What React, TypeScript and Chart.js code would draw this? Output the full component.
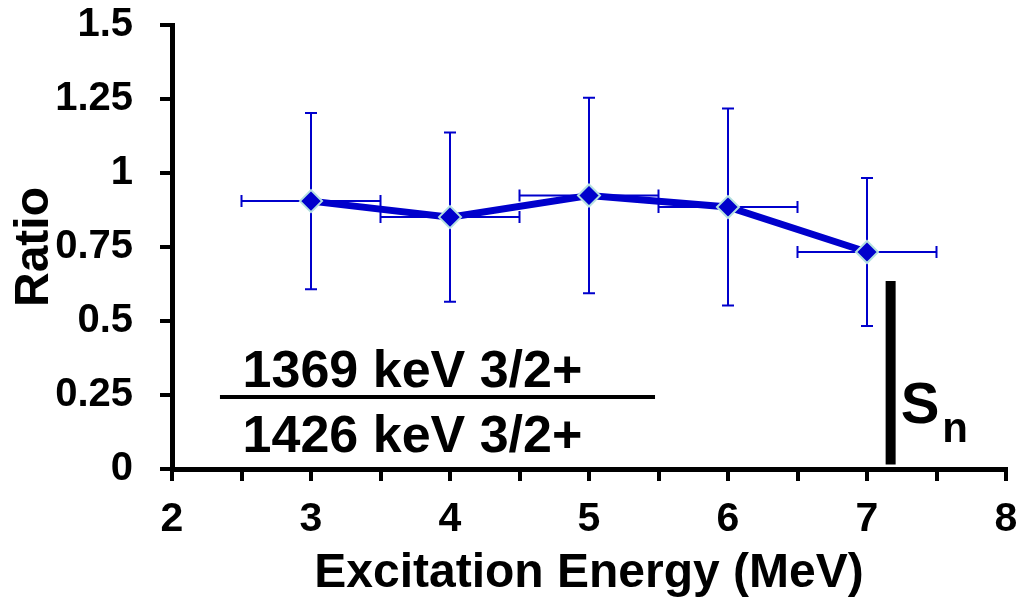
import React, { useEffect, useRef } from "react";
import { Chart, registerables } from "chart.js";

Chart.register(...registerables);

// Data
const energies = [3, 4, 5, 6, 7];
const ratios = [0.905, 0.851, 0.924, 0.885, 0.733];
const ratioErr = [0.298, 0.286, 0.33, 0.333, 0.25];
const energyErr = [0.5, 0.5, 0.5, 0.5, 0.5];
const xTickLabels = ["2", "3", "4", "5", "6", "7", "8"];
const yTickLabels = ["0", "0.25", "0.5", "0.75", "1", "1.25", "1.5"];

// Annotations (data coordinates)
const snX = 7.17;
const snYRange = [0.015, 0.635];
const fracBarX = [2.345, 5.475];
const fracBarY = 0.243;
const fracTextX = 3.73;
const numeratorText = "1369 keV 3/2+";
const denominatorText = "1426 keV 3/2+";

const BLUE = "#0000CC";
const FONT = "'Liberation Sans', Arial, sans-serif";

const errorBarPlugin = {
  id: "errorBars",
  beforeDatasetsDraw(chart: any) {
    const { ctx, scales } = chart;
    const xs = scales.x;
    const ys = scales.y;
    ctx.save();
    ctx.strokeStyle = BLUE;
    ctx.lineWidth = 2;
    const cap = 6;
    energies.forEach((e, i) => {
      const px = xs.getPixelForValue(e);
      const py = ys.getPixelForValue(ratios[i]);
      const yt = ys.getPixelForValue(ratios[i] + ratioErr[i]);
      const yb = ys.getPixelForValue(ratios[i] - ratioErr[i]);
      const xl = xs.getPixelForValue(e - energyErr[i]);
      const xr = xs.getPixelForValue(e + energyErr[i]);
      ctx.beginPath();
      ctx.moveTo(px, yt);
      ctx.lineTo(px, yb);
      ctx.moveTo(px - cap, yt);
      ctx.lineTo(px + cap, yt);
      ctx.moveTo(px - cap, yb);
      ctx.lineTo(px + cap, yb);
      ctx.moveTo(xl, py);
      ctx.lineTo(xr, py);
      ctx.moveTo(xl, py - cap);
      ctx.lineTo(xl, py + cap);
      ctx.moveTo(xr, py - cap);
      ctx.lineTo(xr, py + cap);
      ctx.stroke();
    });
    ctx.restore();
  },
};

const textPlugin = {
  id: "annotText",
  afterDraw(chart: any) {
    const { ctx, scales } = chart;
    const xs = scales.x;
    const ys = scales.y;
    ctx.save();
    ctx.fillStyle = "#000";
    ctx.textBaseline = "alphabetic";
    ctx.textAlign = "center";
    ctx.font = `bold 52px ${FONT}`;
    const tx = xs.getPixelForValue(fracTextX);
    ctx.fillText(numeratorText, tx, ys.getPixelForValue(0.277));
    ctx.fillText(denominatorText, tx, ys.getPixelForValue(0.057));
    ctx.textAlign = "left";
    ctx.font = `bold 58px ${FONT}`;
    const sx = xs.getPixelForValue(snX);
    ctx.fillText("S", sx + 10, ys.getPixelForValue(0.155));
    const sw = ctx.measureText("S").width;
    ctx.font = `bold 42px ${FONT}`;
    ctx.fillText("n", sx + 10 + sw + 3, ys.getPixelForValue(0.09));
    ctx.restore();
  },
};

export default function App() {
  const ref = useRef<HTMLCanvasElement>(null);
  useEffect(() => {
    if (!ref.current) return;
    const chart = new Chart(ref.current, {
      type: "line",
      data: {
        datasets: [
          {
            data: energies.map((e, i) => ({ x: e, y: ratios[i] })),
            borderColor: BLUE,
            borderWidth: 7,
            pointStyle: "rectRot",
            pointRadius: 11,
            pointBackgroundColor: BLUE,
            pointBorderColor: "#B4E0E0",
            pointBorderWidth: 2,
            tension: 0,
            order: 0,
          },
          {
            data: snYRange.map((y) => ({ x: snX, y })),
            borderColor: "#000",
            borderWidth: 10,
            pointRadius: 0,
            borderCapStyle: "butt",
            order: 1,
          },
          {
            data: fracBarX.map((x) => ({ x, y: fracBarY })),
            borderColor: "#000",
            borderWidth: 4,
            pointRadius: 0,
            borderCapStyle: "butt",
            order: 1,
          },
        ],
      },
      options: {
        responsive: false,
        animation: false,
        layout: { padding: { left: 0, top: 25, right: 20, bottom: 0 } },
        plugins: {
          legend: { display: false },
          tooltip: { enabled: false },
        },
        scales: {
          x: {
            type: "linear",
            min: 2,
            max: 8,
            afterFit: (s: any) => {
              s.height = 140;
              s.paddingLeft = 0;
              s.paddingRight = 0;
            },
            ticks: {
              stepSize: 0.5,
              autoSkip: false,
              maxRotation: 0,
              padding: 14,
              color: "#000",
              font: { family: FONT, size: 41, weight: "bold" },
              callback: (v: any) =>
                Number.isInteger(v) ? xTickLabels[v - 2] : "",
            },
            grid: {
              drawOnChartArea: false,
              drawTicks: true,
              tickLength: 12,
              color: "#000",
              lineWidth: 4,
            },
            border: { display: true, color: "#000", width: 5 },
            title: {
              display: true,
              text: "Excitation Energy (MeV)",
              color: "#000",
              font: { family: FONT, size: 48, weight: "bold" },
              padding: { top: 0, bottom: 6 },
            },
          },
          y: {
            type: "linear",
            min: 0,
            max: 1.5,
            afterFit: (s: any) => {
              s.width = 172;
              s.paddingTop = 0;
              s.paddingBottom = 0;
            },
            ticks: {
              stepSize: 0.25,
              autoSkip: false,
              padding: 27,
              color: "#000",
              font: { family: FONT, size: 40, weight: "bold" },
              callback: (v: any) => {
                const idx = Math.round(v / 0.25);
                return yTickLabels[idx];
              },
            },
            grid: {
              drawOnChartArea: false,
              drawTicks: true,
              tickLength: 12,
              color: "#000",
              lineWidth: 4,
            },
            border: { display: true, color: "#000", width: 5 },
            title: {
              display: true,
              text: "Ratio",
              color: "#000",
              font: { family: FONT, size: 48, weight: "bold" },
              padding: { top: 6, bottom: 0 },
            },
          },
        },
      },
      plugins: [errorBarPlugin, textPlugin],
    } as any);
    return () => chart.destroy();
  }, []);
  return (
    <canvas
      ref={ref}
      width={1026}
      height={609}
      style={{ position: "absolute", left: 0, top: 0, display: "block" }}
    />
  );
}
